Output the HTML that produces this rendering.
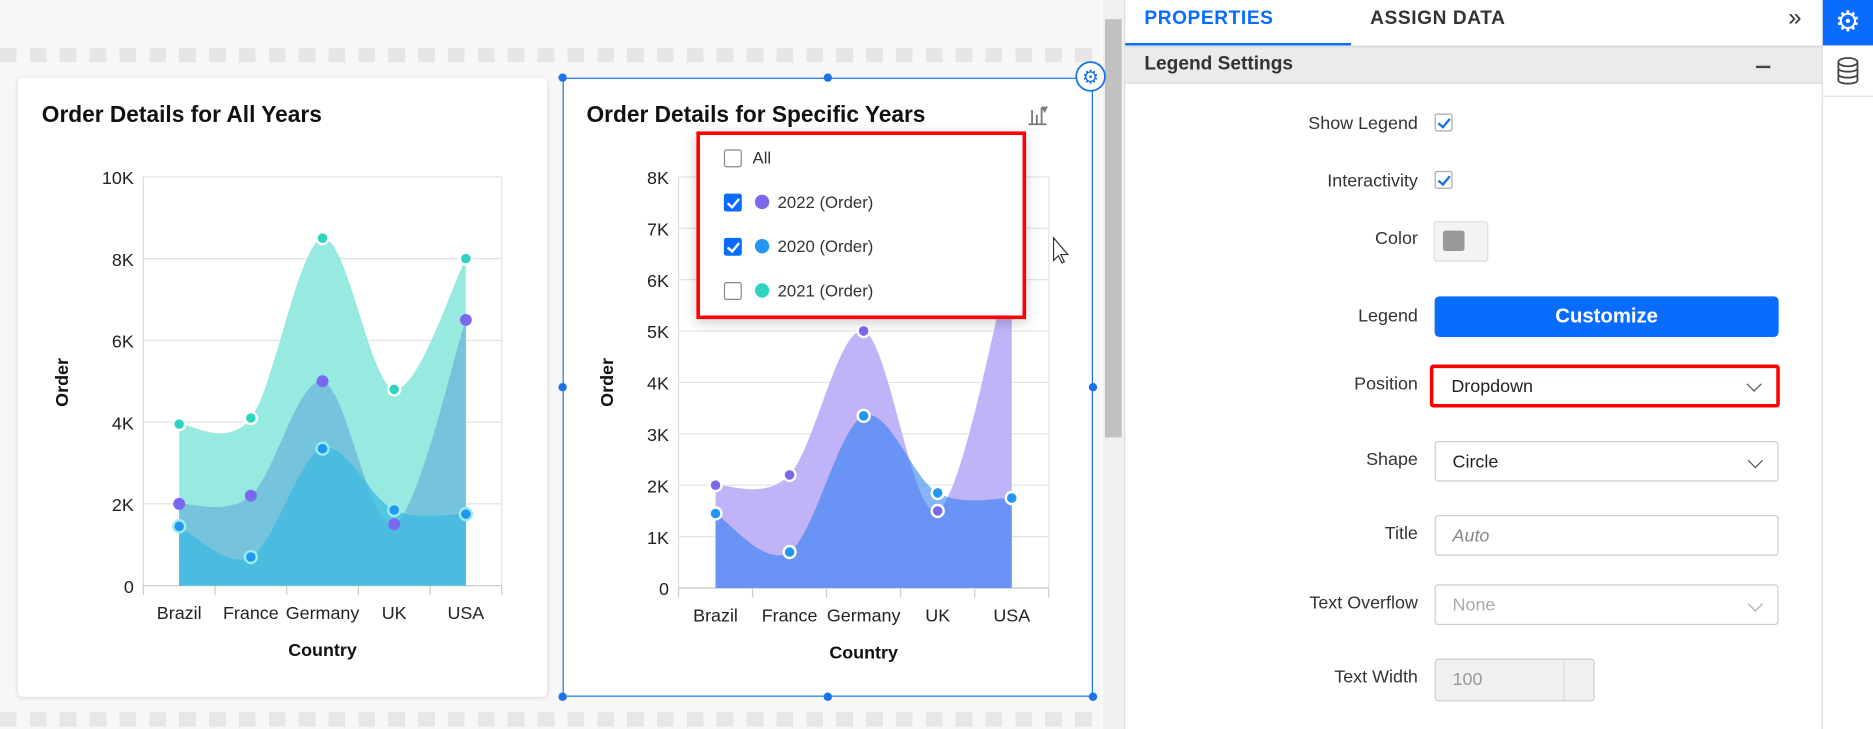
<!DOCTYPE html>
<html><head><meta charset="utf-8"><style>
*{box-sizing:border-box;margin:0;padding:0}
body{width:1873px;height:729px;overflow:hidden;background:#fff;font-family:"Liberation Sans",Arial,sans-serif}
#w{position:absolute;left:0;top:0;width:1568px;height:610px;transform:scale(1.19452,1.1951);transform-origin:0 0;background:#fff}
.a{position:absolute}
.lbl{position:absolute;right:381px;font-size:15px;color:#333;text-align:right;white-space:nowrap}
.box{position:absolute;left:1201px;width:288px;height:34px;border:1px solid #ccc;border-radius:3px;background:#fff;font-size:15px;padding:8px 14px;color:#222}
.chev{position:absolute;right:14px;top:11px;width:9px;height:9px;border-right:1.5px solid #555;border-bottom:1.5px solid #555;transform:rotate(45deg)}
.cb{position:absolute;width:15px;height:15px;border:1px solid #888;border-radius:2px;background:#fff}
.cbc{background:#0a6cff;border-color:#0a6cff}
.cbc:after{content:"";position:absolute;left:4px;top:1px;width:4px;height:8px;border-right:2px solid #fff;border-bottom:2px solid #fff;transform:rotate(40deg)}
.pc{position:absolute;width:15px;height:15px;border:1px solid #aaa;border-radius:2px;background:#fff}
.pc:after{content:"";position:absolute;left:4px;top:1px;width:4px;height:8px;border-right:2px solid #1a73e8;border-bottom:2px solid #1a73e8;transform:rotate(40deg)}
.it{position:absolute;font-size:14px;color:#333}
.dot{position:absolute;width:12px;height:12px;border-radius:50%}
</style></head><body><div id="w">
<div class="a" style="left:0;top:0;width:922px;height:610px;background:#f7f7f7"></div>
<div class="a" style="left:0;top:40px;width:920px;height:12px;background:repeating-linear-gradient(90deg,#e6e6e6 0 14px,transparent 14px 25px)"></div>
<div class="a" style="left:0;top:596px;width:920px;height:12px;background:repeating-linear-gradient(90deg,#e6e6e6 0 14px,transparent 14px 25px)"></div>
<div class="a" style="left:923px;top:0;width:18px;height:610px;background:#f0f0f0"></div>
<div class="a" style="left:925px;top:16px;width:14px;height:350px;background:#c1c1c1"></div>
<div class="a" style="left:15px;top:65px;width:443px;height:518px;background:#fff;border-radius:4px;box-shadow:0 1px 4px rgba(0,0,0,.12)"></div>
<div class="a" style="left:471px;top:65px;width:444px;height:518px;background:#fff;border:1px solid #1a73e8"></div>
<svg class="a" style="left:0;top:0" width="940" height="610" id="sv"></svg>
<div class="a" style="left:35px;top:86px;font-size:19px;font-weight:bold;color:#111">Order Details for All Years</div>
<div class="a" style="left:491px;top:86px;font-size:19px;font-weight:bold;color:#111">Order Details for Specific Years</div>
<!-- dropdown -->
<div class="a" style="left:583px;top:110px;width:276px;height:157px;background:#fff;box-shadow:0 3px 10px rgba(0,0,0,.2);border:3px solid #f00"></div>
<div class="cb" style="left:606px;top:125px"></div><div class="it" style="left:630px;top:124px">All</div>
<div class="cb cbc" style="left:606px;top:162px"></div><div class="dot" style="left:632px;top:163px;background:#7b68ee"></div><div class="it" style="left:651px;top:161px">2022 (Order)</div>
<div class="cb cbc" style="left:606px;top:199px"></div><div class="dot" style="left:632px;top:200px;background:#2196f3"></div><div class="it" style="left:651px;top:198px">2020 (Order)</div>
<div class="cb" style="left:606px;top:236px"></div><div class="dot" style="left:632px;top:237px;background:#2dd4bf"></div><div class="it" style="left:651px;top:235px">2021 (Order)</div>
<!-- right panel -->
<div class="a" style="left:941px;top:0;width:1px;height:610px;background:#ddd"></div>
<div class="a" style="left:958px;top:7px;font-size:16px;font-weight:bold;color:#0a6cff;letter-spacing:.5px">PROPERTIES</div>
<div class="a" style="left:1147px;top:7px;font-size:16px;font-weight:bold;color:#333;letter-spacing:.5px">ASSIGN DATA</div>
<div class="a" style="left:1497px;top:4px;font-size:20px;color:#333">»</div>
<div class="a" style="left:942px;top:38px;width:583px;height:2px;background:#ddd"></div>
<div class="a" style="left:942px;top:36px;width:189px;height:2px;background:#0a6cff"></div>
<div class="a" style="left:942px;top:40px;width:583px;height:30px;background:#ebebeb;border-bottom:1px solid #d8d8d8"></div>
<div class="a" style="left:958px;top:45px;font-size:16px;font-weight:bold;color:#333">Legend Settings</div>
<div class="a" style="left:1470px;top:55px;width:12px;height:2px;background:#444"></div>
<div class="a" style="left:1525px;top:0;width:1px;height:610px;background:#ddd"></div>
<div class="a" style="left:1526px;top:0;width:42px;height:38px;background:#0a6cff;color:#fff;font-size:24px;text-align:center;line-height:38px">⚙</div>
<div class="a" style="left:1526px;top:80px;width:42px;height:1px;background:#ddd"></div>
<svg class="a" style="left:1536px;top:47px" width="22" height="26"><ellipse cx="11" cy="5" rx="8" ry="3.5" fill="none" stroke="#444" stroke-width="1.5"/><path d="M3 5v15c0 4 16 4 16 0V5M3 10c0 4 16 4 16 0M3 15c0 4 16 4 16 0" fill="none" stroke="#444" stroke-width="1.5"/></svg>
<div class="lbl" style="top:95px">Show Legend</div><div class="pc" style="left:1201px;top:95px"></div>
<div class="lbl" style="top:143px">Interactivity</div><div class="pc" style="left:1201px;top:143px"></div>
<div class="lbl" style="top:191px">Color</div>
<div class="a" style="left:1200px;top:185px;width:46px;height:34px;border:1px solid #ddd;border-radius:3px;background:#f3f3f3"></div>
<div class="a" style="left:1208px;top:193px;width:18px;height:17px;background:#999;border-radius:2px"></div>
<div class="lbl" style="top:256px">Legend</div>
<div class="a" style="left:1201px;top:248px;width:288px;height:34px;background:#0a6cff;border-radius:4px;color:#fff;font-size:17px;font-weight:bold;text-align:center;line-height:34px">Customize</div>
<div class="lbl" style="top:313px">Position</div>
<div class="box" style="left:1197px;top:305px;width:293px;height:36px;border:3px solid #f00;padding:7px 15px">Dropdown<div class="chev" style="top:9px"></div></div>
<div class="lbl" style="top:376px">Shape</div><div class="box" style="top:369px">Circle<div class="chev"></div></div>
<div class="lbl" style="top:438px">Title</div><div class="box" style="top:431px;color:#888;font-style:italic">Auto</div>
<div class="lbl" style="top:496px">Text Overflow</div><div class="box" style="top:489px;color:#aaa">None<div class="chev" style="border-color:#aaa"></div></div>
<div class="lbl" style="top:558px">Text Width</div>
<div class="box" style="top:551px;width:134px;height:36px;background:#f0f0f0;color:#999">100</div>
<div class="a" style="left:1309px;top:552px;width:1px;height:34px;background:#ddd"></div>
</div>
<script>
var NS="http://www.w3.org/2000/svg",sv=document.getElementById('sv');
function el(t,a,tx){var e=document.createElementNS(NS,t);for(var k in a)e.setAttribute(k,a[k]);if(tx)e.textContent=tx;sv.appendChild(e);return e}
function sp(p){var d="M"+p[0][0]+" "+p[0][1];for(var i=0;i<p.length-1;i++){var p0=p[i-1]||p[i],p1=p[i],p2=p[i+1],p3=p[i+2]||p2;d+=" C"+(p1[0]+(p2[0]-p0[0])/6)+" "+(p1[1]+(p2[1]-p0[1])/6)+" "+(p2[0]-(p3[0]-p1[0])/6)+" "+(p2[1]-(p3[1]-p1[1])/6)+" "+p2[0]+" "+p2[1]}return d}
function chart(o){
 o.ticks.forEach(function(t){var y=o.y(t[0]);el('line',{x1:o.x0,x2:o.x1,y1:y,y2:y,stroke:'#e3e3e3'});el('text',{x:o.x0-8,y:y+6,'text-anchor':'end','font-size':15,fill:'#222','font-family':'Liberation Sans'},t[1])});
 el('line',{x1:o.x1,x2:o.x1,y1:o.y(o.ticks[o.ticks.length-1][0]),y2:o.y(0),stroke:'#e3e3e3'});
 el('line',{x1:o.x0,x2:o.x0,y1:o.y(o.ticks[o.ticks.length-1][0]),y2:o.y(0),stroke:'#ddd'});
 var w=(o.x1-o.x0)/5;for(var i=0;i<=5;i++)el('line',{x1:o.x0+i*w,x2:o.x0+i*w,y1:o.y(0),y2:o.y(0)+8,stroke:'#ccc'});
 el('line',{x1:o.x0,x2:o.x1,y1:o.y(0),y2:o.y(0),stroke:'#ccc'});
 var cats=['Brazil','France','Germany','UK','USA'];
 cats.forEach(function(c,i){el('text',{x:o.x0+w*(i+.5),y:o.y(0)+28,'text-anchor':'middle','font-size':15,fill:'#222','font-family':'Liberation Sans'},c)});
 el('text',{x:o.x0+w*2.5,y:o.y(0)+59,'text-anchor':'middle','font-size':15,'font-weight':'bold',fill:'#111','font-family':'Liberation Sans'},'Country');
 el('text',{x:o.ax,y:320,'text-anchor':'middle','font-size':15,'font-weight':'bold',fill:'#111','font-family':'Liberation Sans',transform:'rotate(-90 '+o.ax+' 320)'},'Order');
 o.series.forEach(function(s){var p=s.v.map(function(v,i){return[o.x0+w*(i+.5),o.y(v)]});
  el('path',{d:sp(p)+" L"+p[4][0]+" "+o.y(0)+" L"+p[0][0]+" "+o.y(0)+"Z",fill:s.f})});
 o.series.forEach(function(s){s.v.forEach(function(v,i){el('circle',{cx:o.x0+w*(i+.5),cy:o.y(v),r:5,fill:s.c,stroke:s.st||'none','stroke-width':2})})});
}
chart({x0:120,x1:420,ax:57,y:function(v){return 490-v*0.0342},ticks:[[0,'0'],[2000,'2K'],[4000,'4K'],[6000,'6K'],[8000,'8K'],[10000,'10K']],
 series:[{v:[3950,4100,8500,4800,8000],f:'#97eae0',c:'#2dd4bf',st:'#fff'},{v:[2000,2200,5000,1500,6500],f:'#75c3dc',c:'#7b68ee'},{v:[1450,700,3350,1850,1750],f:'rgba(60,185,225,.75)',c:'#2196f3',st:'#9ee'}]});
chart({x0:568,x1:878,ax:513,y:function(v){return 492-v*0.043},ticks:[[0,'0'],[1000,'1K'],[2000,'2K'],[3000,'3K'],[4000,'4K'],[5000,'5K'],[6000,'6K'],[7000,'7K'],[8000,'8K']],
 series:[{v:[2000,2200,5000,1500,6500],f:'#c0b3f7',c:'#7b68ee',st:'#fff'},{v:[1450,700,3350,1850,1750],f:'rgba(33,120,243,.55)',c:'#2196f3',st:'#fff'}]});
[[471,65],[693,65],[915,65],[471,324],[915,324],[471,583],[693,583],[915,583]].forEach(function(p){el('circle',{cx:p[0],cy:p[1],r:3.5,fill:'#1a73e8'})});
el('circle',{cx:913,cy:64,r:12,fill:'#fff',stroke:'#1a73e8','stroke-width':1.5});
el('text',{x:913,y:70,'text-anchor':'middle','font-size':16,fill:'#1a73e8'},'⚙');
el('path',{d:'M864 104V92M868 104V96M872 104V90M861 104H876M873 90l3 0-1.5 3z',stroke:'#777',fill:'none','stroke-width':1.5});
el('path',{d:'M882 199v19l4-4 3 6 2-1-3-6h6z',fill:'#fff',stroke:'#333','stroke-width':1});
</script>
</body></html>
